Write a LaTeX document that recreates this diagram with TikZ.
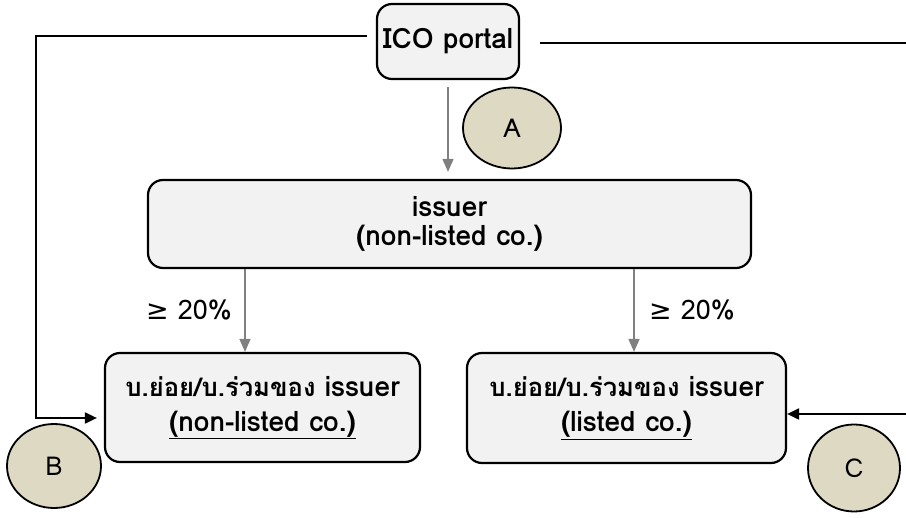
\documentclass[tikz,border=0pt]{standalone}
\usepackage{fontspec}
\setmainfont[Script=Thai]{Loma}
\newfontfamily\thaifont[Script=Thai,Scale=0.915]{Loma}
\newfontfamily\symfont{DejaVu Sans}
\usetikzlibrary{arrows.meta,shapes.geometric}
\definecolor{boxgray}{RGB}{242,242,242}
\definecolor{tagtan}{RGB}{221,217,195}
\definecolor{feedgray}{RGB}{128,128,128}

\begin{document}
\begin{tikzpicture}[x=1pt,y=-1pt,
    box/.style={draw, line width=2.2pt, fill=boxgray, rounded corners=15pt,
      align=center, inner sep=0pt, font=\fontsize{28}{29}\selectfont\bfseries},
    tag/.style={ellipse, draw, line width=1.8pt, fill=tagtan, inner sep=0pt,
      font=\fontsize{26}{28}\selectfont},
    pct/.style={inner sep=0pt, font=\fontsize{27}{28}\selectfont},
    feed/.style={draw=feedgray, line width=1.5pt, -{Triangle[width=11pt,length=13pt]}},
    link/.style={line width=2pt, -{Triangle[width=11pt,length=12pt]}}]
  \path[use as bounding box] (0,0) rectangle (906,518);
  \clip (0,0) rectangle (906,518);

  \node[box, minimum width=142, minimum height=75] (portal) at (448,41.5) {ICO portal};
  \node[box, minimum width=603, minimum height=88] (issuer) at (449.5,224) {issuer\\(non-listed co.)};
  \node[box, minimum width=315, minimum height=109] (subnl) at (262.5,407.5)
    {{\thaifont บ.ย่อย/บ.ร่วมของ} issuer\\[6pt]\underline{(non-listed co.)}};
  \node[box, minimum width=319, minimum height=110] (sublc) at (626.5,408)
    {{\thaifont บ.ย่อย/บ.ร่วมของ} issuer\\[6pt]\underline{(listed co.)}};

  \node[tag, minimum width=98, minimum height=81] (tagA) at (512,128) {A};
  \node[tag, minimum width=94, minimum height=84] (tagB) at (54,466) {B};
  \node[tag, minimum width=92, minimum height=87] (tagC) at (854,468) {C};

  \node[pct] (pctL) at (189,310) {{\symfont ≥} 20\%};
  \node[pct] (pctR) at (692,310) {{\symfont ≥} 20\%};

  \coordinate (bendB) at (36,418);
  \coordinate (bendC) at (920,414);

  \draw[feed, shorten <=7pt, shorten >=7pt] (portal.south) to (portal.south |- issuer.north);
  \draw[feed] ([xshift=-17.5pt]subnl.north |- issuer.south) to ([xshift=-17.5pt]subnl.north);
  \draw[feed] ([xshift=7.5pt]sublc.north |- issuer.south) to ([xshift=7.5pt]sublc.north);

  \draw[link, shorten >=7pt] ([xshift=-9pt,yshift=5.5pt]portal.west) -| (bendB) -- (bendB -| subnl.west);
  \draw[link] ([xshift=20pt,yshift=-1.5pt]portal.east) -| (bendC) -- (bendC -| sublc.east);
\end{tikzpicture}
\end{document}
